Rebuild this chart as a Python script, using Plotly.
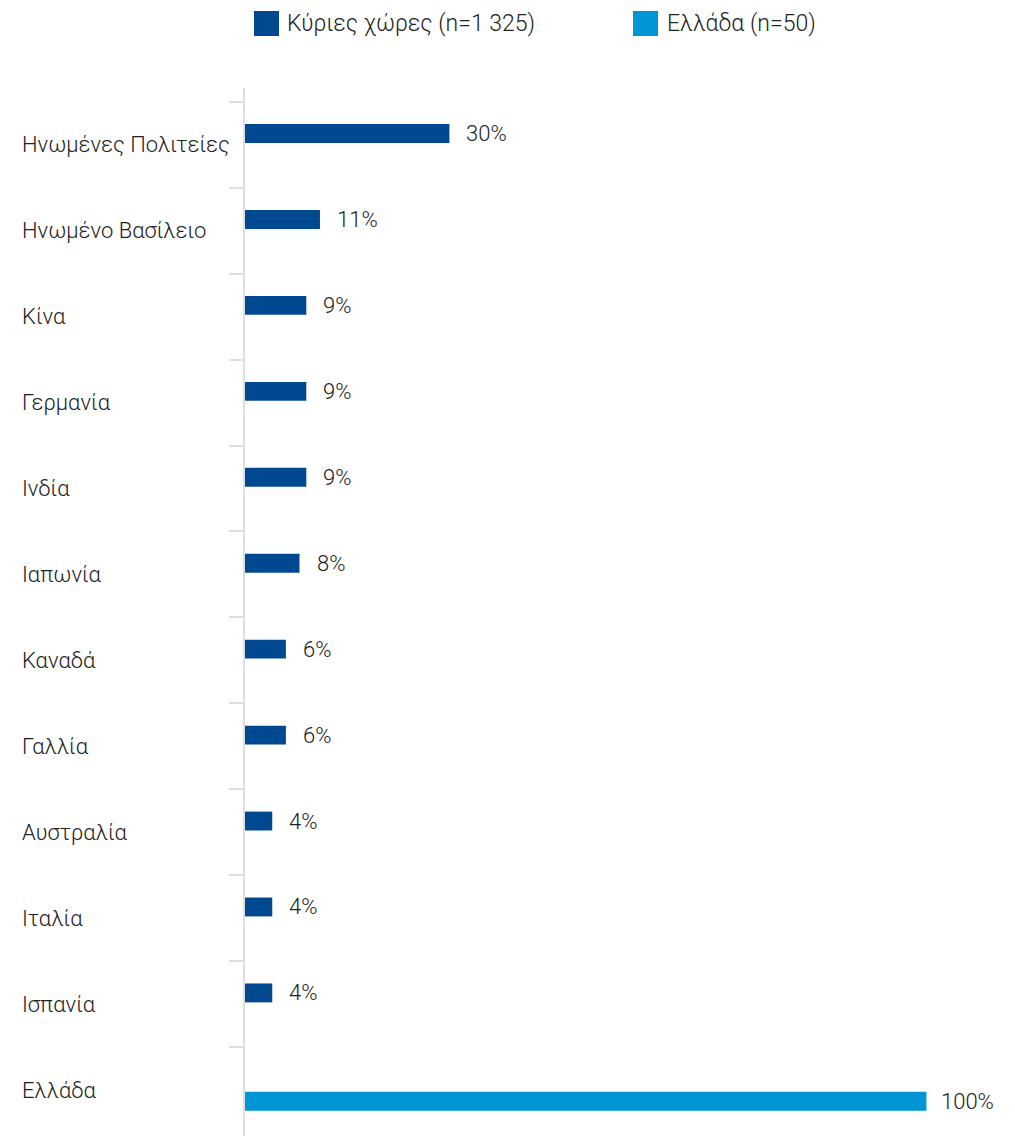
import plotly.graph_objects as go

# ---- data ----
main_countries = ["Ηνωμένες Πολιτείες", "Ηνωμένο Βασίλειο", "Κίνα", "Γερμανία", "Ινδία",
                  "Ιαπωνία", "Καναδά", "Γαλλία", "Αυστραλία", "Ιταλία", "Ισπανία"]
main_values = [30, 11, 9, 9, 9, 8, 6, 6, 4, 4, 4]
greece_categories = ["Ελλάδα"]
greece_values = [100]
all_categories = main_countries + greece_categories
series_names = ["Κύριες χώρες (n=1 325)", "Ελλάδα (n=50)"]
series_colors = ["#004890", "#0096D5"]

# ---- layout geometry ----
W, H = 1015, 1136
ML, MR, MT, MB = 245, 0, 88, 0
PW, PH = W - ML - MR, H - MT - MB
FONT = "Roboto, Liberation Sans, Arial, sans-serif"
TXT = "#222222"

def px_x(p):
    return (p - ML) / PW

def px_y(p):
    return (H - MB - p) / PH

BAR_W = 0.22
MAIN_OFF = -0.24
GR_OFF = 0.02

fig = go.Figure()
fig.add_trace(go.Bar(
    y=main_countries, x=main_values, orientation="h",
    marker=dict(color=series_colors[0], line=dict(width=0)),
    width=BAR_W, offset=MAIN_OFF, name=series_names[0], showlegend=False,
    hoverinfo="x+y",
))
fig.add_trace(go.Bar(
    y=greece_categories, x=greece_values, orientation="h",
    marker=dict(color=series_colors[1], line=dict(width=0)),
    width=BAR_W, offset=GR_OFF, name=series_names[1], showlegend=False,
    hoverinfo="x+y",
))

annotations = []
# category labels (left aligned)
for c in all_categories:
    annotations.append(dict(
        x=px_x(20), xref="paper", y=c, yref="y", text=c, showarrow=False,
        xanchor="left", yanchor="middle", font=dict(family=FONT, size=22, color=TXT, weight=300),
    ))
# value labels
for i, (c, v) in enumerate(zip(main_countries, main_values)):
    annotations.append(dict(
        x=v, xref="x", y=i + MAIN_OFF + BAR_W / 2, yref="y", text=f"{v}%", showarrow=False,
        xanchor="left", yanchor="middle", xshift=15,
        font=dict(family=FONT, size=22, color=TXT, weight=300),
    ))
for c, v in zip(greece_categories, greece_values):
    i = all_categories.index(c)
    annotations.append(dict(
        x=v, xref="x", y=i + GR_OFF + BAR_W / 2, yref="y", text=f"{v}%", showarrow=False,
        xanchor="left", yanchor="middle", xshift=13,
        font=dict(family=FONT, size=22, color=TXT, weight=300),
    ))

# legend (squares + text)
shapes = []
legend_pos = [(254, 285), (633, 665)]
for (sx, tx), name, col in zip(legend_pos, series_names, series_colors):
    shapes.append(dict(
        type="rect", xref="paper", yref="paper",
        x0=px_x(sx), x1=px_x(sx + 25), y0=px_y(36), y1=px_y(11),
        fillcolor=col, line=dict(width=0),
    ))
    annotations.append(dict(
        x=px_x(tx), xref="paper", y=px_y(24), yref="paper", text=name, showarrow=False,
        xanchor="left", yanchor="middle", font=dict(family=FONT, size=23, color=TXT, weight=300),
    ))

fig.update_layout(
    width=W, height=H, autosize=False,
    margin=dict(l=ML, r=MR, t=MT, b=MB, pad=0),
    plot_bgcolor="white", paper_bgcolor="white",
    barmode="overlay",
    showlegend=False,
    annotations=annotations,
    shapes=shapes,
    xaxis=dict(range=[0, 113], showgrid=False, zeroline=False, showline=False,
               showticklabels=False, ticks="", fixedrange=True),
    yaxis=dict(type="category", categoryorder="array", categoryarray=all_categories,
               range=[11.535, -0.66], showgrid=False, zeroline=False,
               showline=True, linecolor="#dedede", linewidth=2,
               ticks="outside", tickson="boundaries", ticklen=14, tickwidth=2,
               tickcolor="#dedede", showticklabels=False, fixedrange=True),
)

fig.write_html("out.html", config={"displayModeBar": False},
               post_script="document.body.style.margin='0';document.body.style.overflow='hidden';")
